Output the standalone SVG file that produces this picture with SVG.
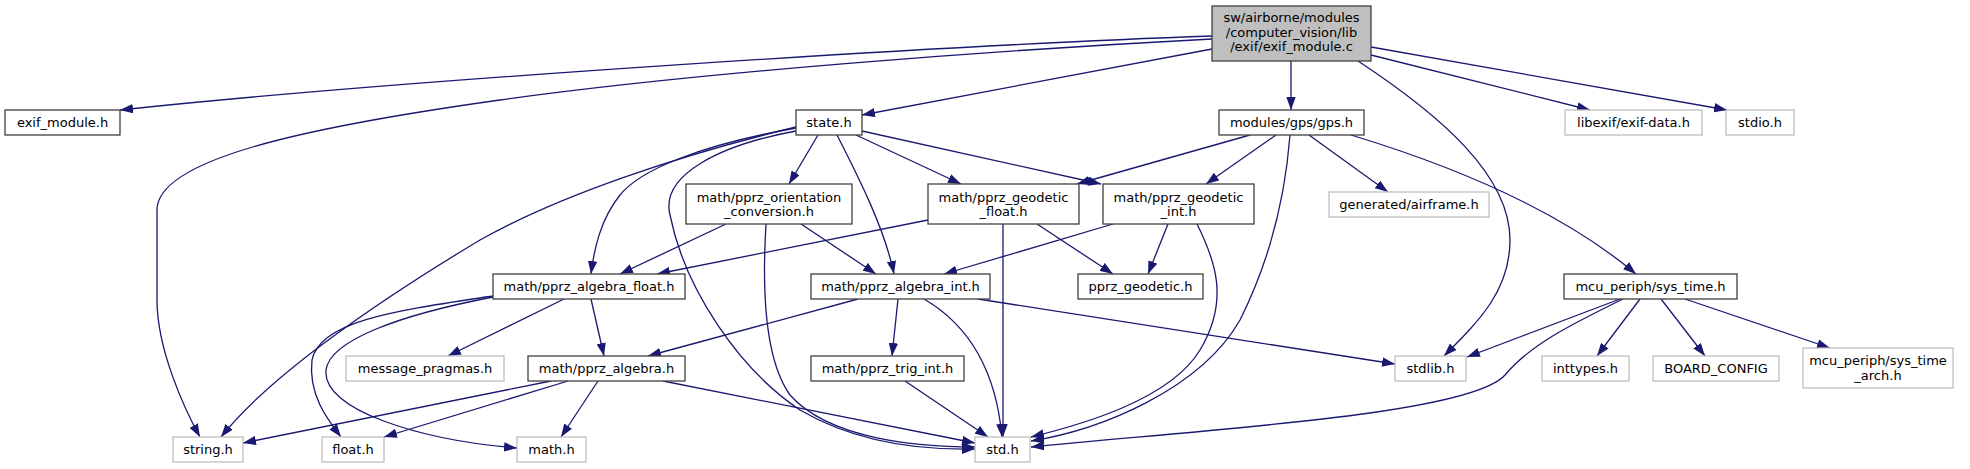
<svg xmlns="http://www.w3.org/2000/svg" width="1970" height="469" viewBox="0 0 1970 469">
<defs>
<marker id="ah" markerUnits="userSpaceOnUse" viewBox="0 0 13 9.4" refX="13" refY="4.7" markerWidth="13" markerHeight="9.4" orient="auto">
<path d="M0,0 L13,4.7 L0,9.4 Z" fill="#191970"/>
</marker>
<style>
.n rect{fill:#ffffff;stroke:#404040;stroke-width:1.3}
.g rect{fill:#ffffff;stroke:#bfbfbf;stroke-width:1.3}
.m rect{fill:#bfbfbf;stroke:#404040;stroke-width:1.3}
text{font-family:"DejaVu Sans","Liberation Sans",sans-serif;font-size:13px;fill:#000000;text-anchor:middle}
#edges path{fill:none;stroke:#191970;stroke-width:1.3;marker-end:url(#ah)}
</style>
</defs>
<rect width="1970" height="469" fill="#ffffff"/>
<g id="edges">
<path d="M1212,36 C950,45 400,80 120,110"/>
<path d="M1212,39 C1000,50 700,72 500,100 C300,128 157,160 157,210 L157,300 C157,350 185,410 200,437"/>
<path d="M1212,49 L862,115"/>
<path d="M1291,61 L1291,110"/>
<path d="M1371,55 L1590,110"/>
<path d="M1371,47 L1727,110"/>
<path d="M1358,61 C1440,115 1510,175 1510,240 C1510,290 1480,320 1444,356"/>
<path d="M796,127 C680,155 560,195 480,240 C380,300 270,375 221,437"/>
<path d="M796,128 C700,145 640,170 620,195 C600,220 594,250 591,274"/>
<path d="M796,131 C720,145 660,175 670,215 C685,290 740,370 800,410 C860,445 930,450 975,449"/>
<path d="M818,135 L789,184"/>
<path d="M837,135 C860,180 885,230 894,274"/>
<path d="M856,135 L961,184"/>
<path d="M862,131 L1101,184"/>
<path d="M1250,135 L1077,184"/>
<path d="M1276,135 L1206,184"/>
<path d="M1290,135 C1285,200 1270,260 1240,320 C1200,390 1100,430 1031,441"/>
<path d="M1309,135 L1388,192"/>
<path d="M1351,135 C1450,165 1560,210 1636,274"/>
<path d="M726,224 L620,274"/>
<path d="M801,224 L876,274"/>
<path d="M766,224 C762,290 765,360 790,395 C830,440 920,447 975,447"/>
<path d="M928,220 L657,274"/>
<path d="M1003,224 L1003,437"/>
<path d="M1037,224 L1113,274"/>
<path d="M1113,224 L944,274"/>
<path d="M1168,224 L1148,274"/>
<path d="M1197,224 C1215,260 1230,300 1200,350 C1170,400 1080,425 1031,437"/>
<path d="M564,299 L448,356"/>
<path d="M591,299 L604,356"/>
<path d="M493,296 C400,310 320,320 312,360 C308,395 328,420 341,437"/>
<path d="M493,297 C400,315 330,340 326,370 C322,410 420,440 517,448"/>
<path d="M551,381 L243,443"/>
<path d="M568,381 L384,437"/>
<path d="M598,381 L561,437"/>
<path d="M663,381 L975,443"/>
<path d="M858,299 L648,356"/>
<path d="M898,299 L892,356"/>
<path d="M924,299 C960,320 995,360 1002,437"/>
<path d="M978,299 L1395,364"/>
<path d="M905,381 L988,437"/>
<path d="M1620,299 L1467,357"/>
<path d="M1623,299 C1570,325 1530,345 1505,375 C1470,415 1200,430 1031,447"/>
<path d="M1640,299 L1597,356"/>
<path d="M1661,299 L1705,356"/>
<path d="M1685,299 L1830,348"/>
</g>
<g id="node-main" class="m"><rect x="1212" y="6" width="159" height="55"/><text x="1291.5" y="21.5">sw/airborne/modules</text><text x="1291.5" y="36.5">/computer_vision/lib</text><text x="1291.5" y="51">/exif/exif_module.c</text></g>
<g id="node-exif_module_h" class="n"><rect x="5" y="110" width="115" height="25"/><text x="62.5" y="127">exif_module.h</text></g>
<g id="node-state_h" class="n"><rect x="796" y="110" width="66" height="25"/><text x="829" y="127">state.h</text></g>
<g id="node-gps_h" class="n"><rect x="1219" y="110" width="145" height="25"/><text x="1291.5" y="127">modules/gps/gps.h</text></g>
<g id="node-exif_data_h" class="g"><rect x="1565" y="110" width="137" height="25"/><text x="1633.5" y="127">libexif/exif-data.h</text></g>
<g id="node-stdio_h" class="g"><rect x="1726" y="110" width="68" height="25"/><text x="1760" y="127">stdio.h</text></g>
<g id="node-orientation" class="n"><rect x="686" y="184" width="166" height="40"/><text x="769" y="201.5">math/pprz_orientation</text><text x="769" y="215.5">_conversion.h</text></g>
<g id="node-geodetic_float" class="n"><rect x="928" y="184" width="151" height="40"/><text x="1003.5" y="201.5">math/pprz_geodetic</text><text x="1003.5" y="215.5">_float.h</text></g>
<g id="node-geodetic_int" class="n"><rect x="1103" y="184" width="151" height="40"/><text x="1178.5" y="201.5">math/pprz_geodetic</text><text x="1178.5" y="215.5">_int.h</text></g>
<g id="node-airframe_h" class="g"><rect x="1329" y="192" width="160" height="25"/><text x="1409" y="209">generated/airframe.h</text></g>
<g id="node-algebra_float" class="n"><rect x="493" y="274" width="192" height="25"/><text x="589" y="291">math/pprz_algebra_float.h</text></g>
<g id="node-algebra_int" class="n"><rect x="811" y="274" width="179" height="25"/><text x="900.5" y="291">math/pprz_algebra_int.h</text></g>
<g id="node-geodetic_h" class="n"><rect x="1078" y="274" width="125" height="25"/><text x="1140.5" y="291">pprz_geodetic.h</text></g>
<g id="node-sys_time_h" class="n"><rect x="1564" y="274" width="173" height="25"/><text x="1650.5" y="291">mcu_periph/sys_time.h</text></g>
<g id="node-message_pragmas" class="g"><rect x="346" y="356" width="158" height="25"/><text x="425" y="373">message_pragmas.h</text></g>
<g id="node-algebra_h" class="n"><rect x="528" y="356" width="157" height="25"/><text x="606.5" y="373">math/pprz_algebra.h</text></g>
<g id="node-trig_int" class="n"><rect x="811" y="356" width="153" height="25"/><text x="887.5" y="373">math/pprz_trig_int.h</text></g>
<g id="node-stdlib_h" class="g"><rect x="1395" y="356" width="71" height="25"/><text x="1430.5" y="373">stdlib.h</text></g>
<g id="node-inttypes_h" class="g"><rect x="1542" y="356" width="87" height="25"/><text x="1585.5" y="373">inttypes.h</text></g>
<g id="node-board_config" class="g"><rect x="1653" y="356" width="126" height="25"/><text x="1716" y="373">BOARD_CONFIG</text></g>
<g id="node-sys_time_arch" class="g"><rect x="1803" y="348" width="150" height="40"/><text x="1878" y="365">mcu_periph/sys_time</text><text x="1878" y="379.5">_arch.h</text></g>
<g id="node-string_h" class="g"><rect x="173" y="437" width="70" height="25"/><text x="208" y="454">string.h</text></g>
<g id="node-float_h" class="g"><rect x="322" y="437" width="62" height="25"/><text x="353" y="454">float.h</text></g>
<g id="node-math_h" class="g"><rect x="517" y="437" width="69" height="25"/><text x="551.5" y="454">math.h</text></g>
<g id="node-std_h" class="g"><rect x="975" y="437" width="55" height="25"/><text x="1002.5" y="454">std.h</text></g>
</svg>
